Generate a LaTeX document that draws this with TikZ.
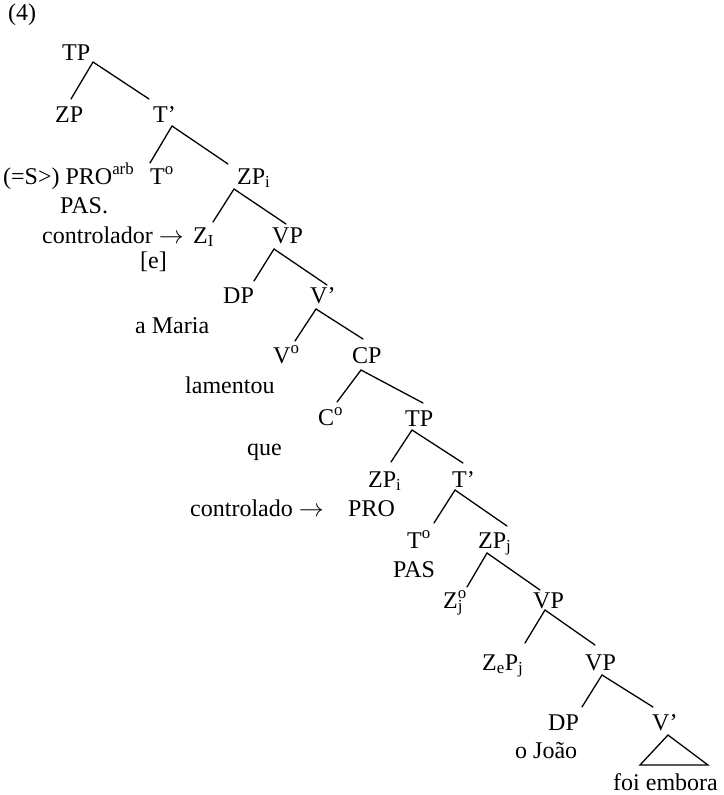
\documentclass[tikz,border=0pt]{standalone}
\usepackage{fontspec}
\setmainfont{Liberation Serif}
\usetikzlibrary{calc}
\begin{document}
\begin{tikzpicture}[x=1pt,y=-1pt,
  lbl/.style={anchor=base west, inner sep=0pt, font=\fontsize{24}{28}\selectfont},
  edge/.style={line width=1.3pt, line cap=round}]
\useasboundingbox (0,0) rectangle (723,795);
% labels
\node[lbl] (n4) at (8,20) {(4)};
\node[lbl] (TPa) at (62,60) {TP};
\node[lbl] (ZPa) at (55,122) {ZP};
\node[lbl] (Ta) at (153,122) {T'};
\node[lbl] (PROarb) at (3,184) {(=S>) PRO\textsuperscript{arb}};
\node[lbl] (T0a) at (150,184) {T\textsuperscript{o}};
\node[lbl] (ZPia) at (237,184) {ZP\textsubscript{i}};
\node[lbl] (PASa) at (60,213) {PAS.};
\node[lbl] (contr) at (42,243) {controlador $\rightarrow$};
\node[lbl] (ZI) at (193,243) {Z\textsubscript{I}};
\node[lbl] (VPa) at (272,243) {VP};
\node[lbl] (e) at (140,268) {[e]};
\node[lbl] (DPa) at (223,303) {DP};
\node[lbl] (Va) at (310,303) {V'};
\node[lbl] (maria) at (135,333) {a Maria};
\node[lbl] (V0) at (273,363) {V\textsuperscript{o}};
\node[lbl] (CP) at (352,363) {CP};
\node[lbl] (lam) at (185,393) {lamentou};
\node[lbl] (C0) at (318,425) {C\textsuperscript{o}};
\node[lbl] (TPb) at (405,426) {TP};
\node[lbl] (que) at (247,455) {que};
\node[lbl] (ZPib) at (368,487) {ZP\textsubscript{i}};
\node[lbl] (Tb) at (452,487) {T'};
\node[lbl] (contrd) at (190,516) {controlado $\rightarrow$};
\node[lbl] (PRO) at (348,516) {PRO};
\node[lbl] (T0b) at (407,548) {T\textsuperscript{o}};
\node[lbl] (ZPj) at (478,548) {ZP\textsubscript{j}};
\node[lbl] (PASb) at (393,577) {PAS};
\node[lbl] (Z0j) at (443,608) {Z\rlap{\textsuperscript{o}}\textsubscript{j}};
\node[lbl] (VPb) at (533,608) {VP};
\node[lbl] (ZePj) at (482,670) {Z\textsubscript{e}P\textsubscript{j}};
\node[lbl] (VPc) at (585,670) {VP};
\node[lbl] (DPb) at (548,730) {DP};
\node[lbl] (Vb) at (652,730) {V'};
\node[lbl] (joao) at (515,758) {o João};
\node[lbl] (foi) at (613,790) {foi embora};
% edges
\draw[edge] ($(TPa.base west)+(31,2)$) -- ($(ZPa.base west)+(16,-23)$);
\draw[edge] ($(TPa.base west)+(31,2)$) -- ($(Ta.base west)+(-4,-23)$);
\draw[edge] ($(Ta.base west)+(19,4)$) -- ($(T0a.base west)+(0,-21)$);
\draw[edge] ($(Ta.base west)+(19,4)$) -- ($(ZPia.base west)+(-9,-20)$);
\draw[edge] ($(ZPia.base west)+(-3,5)$) -- ($(ZI.base west)+(20,-21)$);
\draw[edge] ($(ZPia.base west)+(-3,5)$) -- ($(VPa.base west)+(14,-19)$);
\draw[edge] ($(VPa.base west)+(2,6)$) -- ($(DPa.base west)+(31,-22)$);
\draw[edge] ($(VPa.base west)+(2,6)$) -- ($(Va.base west)+(17,-18)$);
\draw[edge] ($(Va.base west)+(6,6)$) -- ($(V0.base west)+(22,-22)$);
\draw[edge] ($(Va.base west)+(6,6)$) -- ($(CP.base west)+(11,-24)$);
\draw[edge] ($(CP.base west)+(9,7)$) -- ($(C0.base west)+(19,-23)$);
\draw[edge] ($(CP.base west)+(9,7)$) -- ($(TPb.base west)+(18,-23)$);
\draw[edge] ($(TPb.base west)+(7,4)$) -- ($(ZPib.base west)+(23,-25)$);
\draw[edge] ($(TPb.base west)+(7,4)$) -- ($(Tb.base west)+(11,-24)$);
\draw[edge] ($(Tb.base west)+(3,3)$) -- ($(T0b.base west)+(27,-25)$);
\draw[edge] ($(Tb.base west)+(3,3)$) -- ($(ZPj.base west)+(29,-22)$);
\draw[edge] ($(ZPj.base west)+(9,5)$) -- ($(Z0j.base west)+(24,-21)$);
\draw[edge] ($(ZPj.base west)+(9,5)$) -- ($(VPb.base west)+(7,-18)$);
\draw[edge] ($(VPb.base west)+(12,2)$) -- ($(ZePj.base west)+(43,-27)$);
\draw[edge] ($(VPb.base west)+(12,2)$) -- ($(VPc.base west)+(10,-25)$);
\draw[edge] ($(VPc.base west)+(17,5)$) -- ($(DPb.base west)+(34,-23)$);
\draw[edge] ($(VPc.base west)+(17,5)$) -- ($(Vb.base west)+(1,-23)$);
\draw[edge, line join=miter] ($(Vb.base west)+(16,5)$) -- ($(foi.base west)+(27,-25)$) -- ($(foi.base west)+(95,-25)$) -- cycle;
\end{tikzpicture}
\end{document}
